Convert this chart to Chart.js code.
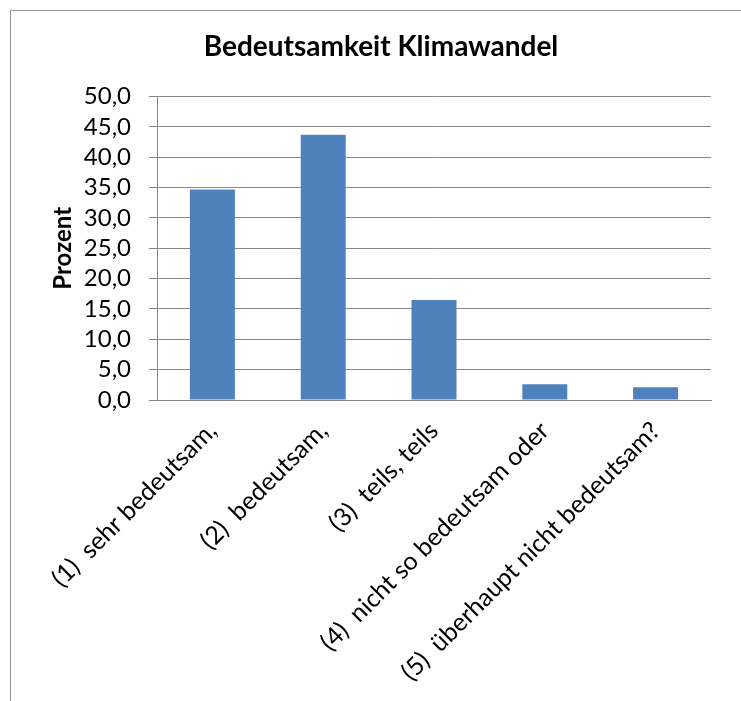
<!DOCTYPE html>
<html>
<head>
<meta charset="utf-8">
<script src="https://cdn.jsdelivr.net/npm/chart.js@4"></script>
<style>
	body { margin: 0; background: #fff; }
	.frame {
		position: absolute;
		left: 10px;
		top: 10px;
		width: 740px;
		height: 700px;
		border-left: 1px solid #9a9a9a;
		border-top: 1px solid #9a9a9a;
	}
	#chart { display: block; }
</style>
</head>
<body>
<div class="frame">
	<canvas id="chart" width="730" height="690"></canvas>
</div>
<script>
var categories = [
	'(1)  sehr bedeutsam,',
	'(2)  bedeutsam,',
	'(3)  teils, teils',
	'(4)  nicht so bedeutsam oder',
	'(5)  überhaupt nicht bedeutsam?'
];
var prozent = [34.7, 43.7, 16.5, 2.6, 2.1];
var yTicks = [0, 5, 10, 15, 20, 25, 30, 35, 40, 45, 50];

var ctx = document.getElementById('chart').getContext('2d');

var chart = new Chart(ctx, {
	type: 'bar',
	data: {
		labels: categories,
		datasets: [{
			data: prozent,
			backgroundColor: '#4f81bd',
			borderWidth: 0,
			categoryPercentage: 1,
			barPercentage: 0.406
		}]
	},
	options: {
		responsive: false,
		animation: false,
		layout: {
			padding: { left: 40, right: 30, top: 0, bottom: 0 }
		},
		plugins: {
			legend: { display: false },
			tooltip: { enabled: false },
			title: {
				display: true,
				text: 'Bedeutsamkeit Klimawandel',
				color: '#000',
				font: { family: 'Lato', size: 28, weight: 'bold', lineHeight: 1.2 },
				padding: { top: 19, bottom: 33 }
			}
		},
		scales: {
			x: {
				grid: { display: false },
				border: { display: true, color: '#878787', width: 1 },
				ticks: {
					color: '#000',
					font: { family: 'Lato', size: 25 },
					maxRotation: 45,
					minRotation: 45,
					autoSkip: false,
					padding: 8
				},
				afterFit: function(scale) { scale.height = 301; }
			},
			y: {
				min: 0,
				max: 50,
				afterBuildTicks: function(scale) {
					scale.ticks = yTicks.map(function(v) { return { value: v }; });
				},
				grid: {
					color: '#878787',
					lineWidth: 1,
					tickLength: 8,
					tickColor: '#878787'
				},
				border: { display: true, color: '#878787', width: 1 },
				ticks: {
					color: '#000',
					font: { family: 'Lato', size: 24 },
					padding: 18,
					autoSkip: false,
					callback: function(value) {
						return value.toFixed(1).replace('.', ',');
					}
				},
				title: {
					display: true,
					text: 'Prozent',
					color: '#000',
					font: { family: 'Lato', size: 24, weight: 'bold', lineHeight: 1 },
					padding: 0
				},
				afterFit: function(scale) { scale.width = 106; }
			}
		}
	}
});
</script>
</body>
</html>
